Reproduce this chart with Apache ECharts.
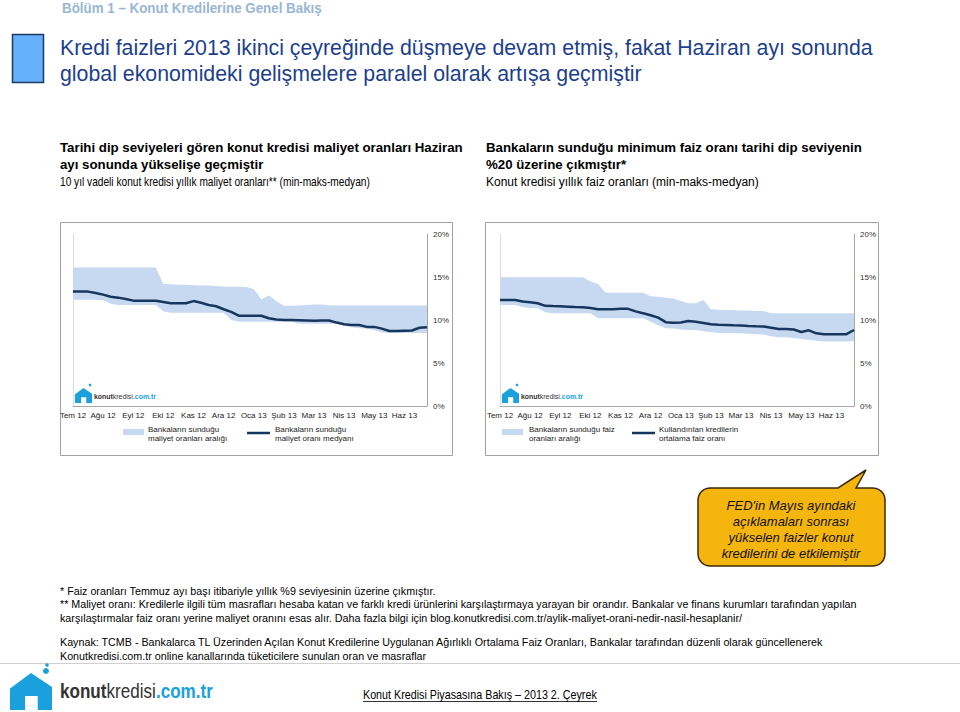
<!DOCTYPE html>
<html><head><meta charset="utf-8">
<script src="https://cdn.jsdelivr.net/npm/echarts@6/dist/echarts.min.js"></script>
<style>html,body{margin:0;padding:0;background:#fff}#c{width:960px;height:712px}</style>
</head><body><div id="c"></div>
<script>
// ---- data ----
const monthLabels = ['Tem 12','Ağu 12','Eyl 12','Eki 12','Kas 12','Ara 12','Oca 13','Şub 13','Mar 13','Nis 13','May 13','Haz 13'];
const yTicks = [0, 5, 10, 15, 20];
// Left: 10-year housing loan annual cost rates (weekly), %
const costMin = [12.35,12.35,12.35,12.35,12.3,11.9,11.75,11.75,11.75,11.75,11.75,11.75,
  11.0,10.85,10.85,10.85,10.85,10.85,10.85,10.85,10.85,10.0,9.8,9.8,
  9.8,9.8,9.8,9.8,9.8,9.8,9.55,9.55,9.55,9.55,9.55,9.55,
  9.3,9.15,9.05,9.0,8.8,8.55,8.5,8.5,8.5,8.5,8.5,8.5];
const costMax = [16.1,16.1,16.1,16.1,16.1,16.1,16.1,16.1,16.1,16.1,16.1,16.1,
  14.2,14.15,14.1,14.1,14.05,14.0,14.0,13.95,13.9,13.88,13.88,13.85,
  13.6,12.4,12.85,12.2,11.65,11.65,11.7,11.75,11.8,11.8,11.72,11.68,
  11.68,11.68,11.68,11.68,11.68,11.68,11.68,11.68,11.68,11.68,11.68,11.68];
const costMedian = [13.3,13.3,13.3,13.15,12.95,12.7,12.6,12.45,12.25,12.25,12.25,12.25,
  12.1,11.95,11.95,11.95,12.2,12.0,11.75,11.6,11.25,10.95,10.5,10.5,
  10.5,10.5,10.2,10.05,10.0,10.0,9.98,9.95,9.92,9.95,9.95,9.7,
  9.5,9.42,9.42,9.2,9.2,9.0,8.72,8.72,8.75,8.78,9.1,9.15];
// Right: housing loan annual interest rates (weekly), %
const rateMin = [11.74,11.74,11.74,11.5,11.36,11.36,10.9,10.78,10.78,10.78,10.78,10.78,
  10.78,10.2,10.2,10.2,10.2,10.2,10.2,10.2,9.8,9.4,9.03,9.0,
  8.9,8.84,8.84,8.7,8.6,8.5,8.5,8.5,8.45,8.4,8.35,8.3,
  8.1,8.0,8.0,7.9,7.8,7.7,7.6,7.5,7.5,7.5,7.5,7.6];
const rateMax = [14.97,14.97,14.97,14.97,14.97,14.97,14.97,14.97,14.97,14.97,14.97,14.97,
  14.5,14.2,13.2,13.18,13.18,13.18,13.18,13.18,12.75,12.7,12.6,12.5,
  12.2,11.94,11.94,12.33,11.24,11.2,11.15,11.15,11.1,11.1,11.05,11.05,
  10.78,10.78,10.78,10.78,10.78,10.78,10.78,10.78,10.78,10.78,10.78,10.78];
const rateAvg = [12.33,12.33,12.33,12.15,12.06,11.95,11.65,11.62,11.6,11.55,11.5,11.48,
  11.4,11.25,11.24,11.24,11.3,11.3,11.0,10.78,10.55,10.27,9.75,9.69,
  9.72,9.88,9.8,9.65,9.5,9.45,9.42,9.38,9.35,9.3,9.26,9.25,
  9.1,8.95,8.95,8.9,8.6,8.8,8.45,8.33,8.33,8.33,8.35,8.84];

// ---- styles ----
const BAND = '#c6d9f0', NAVY = '#17365d', AX = '#a6a6a6';
const SANS = "'Liberation Sans', Arial, sans-serif";
const weeks = costMedian.map((_, i) => 'w' + i);

const measureCtx = document.createElement('canvas').getContext('2d');
function measure(text, font) { measureCtx.font = font; return measureCtx.measureText(text).width; }
function fitScale(text, font, width) { return width / measure(text, font); }

const chart = echarts.init(document.getElementById('c'), null, {renderer: 'svg'});

function xAx(g) {
  return {type: 'category', gridIndex: g, data: weeks, boundaryGap: false,
    axisLine: {show: true, lineStyle: {color: AX, width: 1}}, axisTick: {show: false},
    axisLabel: {interval: 3, formatter: (v, i) => monthLabels[Math.round(i / 4)], fontSize: 8, color: '#222', margin: 5, fontFamily: SANS},
    splitLine: {show: false}};
}
function yAxRight(g) {
  return {type: 'value', gridIndex: g, position: 'right', min: yTicks[0], max: yTicks[yTicks.length - 1], interval: 5,
    axisLine: {show: true, lineStyle: {color: AX}}, axisTick: {show: false},
    axisLabel: {formatter: '{value}%', fontSize: 8, color: '#333', margin: 6, fontFamily: SANS},
    splitLine: {show: false}};
}
function yAxLeft(g) {
  return {type: 'value', gridIndex: g, position: 'left', min: 0, max: 20, interval: 5,
    axisLine: {show: true, lineStyle: {color: '#dcdcdc'}}, axisTick: {show: false},
    axisLabel: {show: false}, splitLine: {show: false}};
}
function bandPair(min, max, ax, stack) {
  return [
    {type: 'line', xAxisIndex: ax, yAxisIndex: ax * 2, data: min, stack: stack, symbol: 'none',
      lineStyle: {opacity: 0}, silent: true, z: 1},
    {type: 'line', xAxisIndex: ax, yAxisIndex: ax * 2, data: max.map((v, i) => +(v - min[i]).toFixed(2)), stack: stack, symbol: 'none',
      lineStyle: {opacity: 0}, areaStyle: {color: BAND, opacity: 1}, silent: true, z: 1}
  ];
}
function lineS(data, ax) {
  return {type: 'line', xAxisIndex: ax, yAxisIndex: ax * 2, data: data, symbol: 'none',
    lineStyle: {color: NAVY, width: 2.5}, z: 3, silent: true};
}

function txt(x, y, text, font, fill, align, scaleX) {
  const el = {type: 'text', x: x, y: y, silent: true,
    style: {text: text, font: font, fill: fill || '#000', textAlign: align || 'left', textVerticalAlign: 'middle'}};
  if (scaleX) { el.scaleX = scaleX; }
  return el;
}
function fitTxt(x, y, text, font, fill, width) {
  return txt(x, y, text, font, fill, 'left', fitScale(text, font, width));
}
function house(x, y, w, h) {
  return {type: 'polygon', silent: true, shape: {points: [
    [x, y + h * 0.42], [x + w * 0.5, y], [x + w, y + h * 0.38], [x + w, y + h], [x + w * 0.66, y + h],
    [x + w * 0.66, y + h * 0.62], [x + w * 0.36, y + h * 0.62], [x + w * 0.36, y + h], [x, y + h]]},
    style: {fill: '#1aa0dc'}};
}
function logoText(x, y, size, width) {
  const fa = 'bold ' + size + 'px ' + SANS, fb = size + 'px ' + SANS;
  const w = measure('konut', fa) + measure('kredisi', fb) + measure('.com.tr', fa);
  return {type: 'text', silent: true, x: x, y: y, scaleX: width / w,
    style: {text: '{a|konut}{b|kredisi}{c|.com.tr}', textVerticalAlign: 'middle',
      rich: {a: {font: fa, fill: '#333'}, b: {font: fb, fill: '#333'}, c: {font: fa, fill: '#1aa0dc'}}}};
}
function smallLogo(x, y) {
  return [
    house(x, y + 1, 17, 15),
    {type: 'circle', silent: true, shape: {cx: x + 15, cy: y - 2, r: 1.3}, style: {fill: '#1aa0dc'}},
    logoText(x + 19, y + 9, 7, 62)
  ];
}
function calloutPoints(x0, y0, x1, y1, r, p1, tip, p2) {
  const pts = [];
  const arc = (cx, cy, a0, a1) => { for (let k = 0; k <= 6; k++) { const a = a0 + (a1 - a0) * k / 6; pts.push([cx + r * Math.cos(a), cy + r * Math.sin(a)]); } };
  arc(x0 + r, y0 + r, Math.PI, Math.PI * 1.5);
  pts.push([p1, y0], tip, [p2, y0]);
  arc(x1 - r, y0 + r, Math.PI * 1.5, Math.PI * 2);
  arc(x1 - r, y1 - r, 0, Math.PI * 0.5);
  arc(x0 + r, y1 - r, Math.PI * 0.5, Math.PI);
  return pts;
}

const FOOT = '11px ' + SANS;
const footLine2 = '** Maliyet oranı: Kredilerle ilgili tüm masrafları hesaba katan ve farklı kredi ürünlerini karşılaştırmaya yarayan bir orandır. Bankalar ve finans kurumları tarafından yapılan';
const footScale = fitScale(footLine2, FOOT, 797);
const TITLE1 = 'Kredi faizleri 2013 ikinci çeyreğinde düşmeye devam etmiş, fakat Haziran ayı sonunda';
const SUB_L1 = 'Tarihi dip seviyeleri gören konut kredisi maliyet oranları Haziran';
const SUB_R1 = 'Bankaların sunduğu minimum faiz oranı tarihi dip seviyenin';

const elements = [
  // header
  fitTxt(62, 8, 'Bölüm 1 – Konut Kredilerine Genel Bakış', 'bold 14px ' + SANS, '#98b6d6', 260),
  {type: 'rect', silent: true, shape: {x: 12.5, y: 34.5, width: 31, height: 48}, style: {fill: '#66b1fb', stroke: '#1f3a60', lineWidth: 1.5}},
  fitTxt(60, 47, TITLE1, '22px ' + SANS, '#1c3f8c', 813),
  txt(60, 73, 'global ekonomideki gelişmelere paralel olarak artışa geçmiştir', '22px ' + SANS, '#1c3f8c', 'left', fitScale(TITLE1, '22px ' + SANS, 813)),
  // subtitles
  fitTxt(60, 148, SUB_L1, 'bold 13px ' + SANS, '#000', 403),
  txt(60, 165, 'ayı sonunda yükselişe geçmiştir', 'bold 13px ' + SANS, '#000', 'left', fitScale(SUB_L1, 'bold 13px ' + SANS, 403)),
  fitTxt(60, 182, '10 yıl vadeli konut kredisi yıllık maliyet oranları** (min-maks-medyan)', '12px ' + SANS, '#000', 310),
  fitTxt(486, 148, SUB_R1, 'bold 13px ' + SANS, '#000', 376),
  txt(486, 165, '%20 üzerine çıkmıştır*', 'bold 13px ' + SANS, '#000', 'left', fitScale(SUB_R1, 'bold 13px ' + SANS, 376)),
  txt(486, 182, 'Konut kredisi yıllık faiz oranları (min-maks-medyan)', '12px ' + SANS, '#000'),
  // chart frames
  {type: 'rect', silent: true, z: -1, shape: {x: 60.5, y: 222.5, width: 392, height: 233}, style: {fill: 'none', stroke: '#a0a0a0', lineWidth: 1}},
  {type: 'rect', silent: true, z: -1, shape: {x: 485.5, y: 222.5, width: 393, height: 233}, style: {fill: 'none', stroke: '#a0a0a0', lineWidth: 1}},
  // left legend
  {type: 'rect', silent: true, shape: {x: 123, y: 429, width: 21, height: 6}, style: {fill: BAND}},
  txt(148, 429, 'Bankaların sunduğu', '8px ' + SANS, '#222'),
  txt(148, 438, 'maliyet oranları aralığı', '8px ' + SANS, '#222'),
  {type: 'line', silent: true, shape: {x1: 247, y1: 433, x2: 270, y2: 433}, style: {stroke: NAVY, lineWidth: 2.5}},
  txt(275, 429, 'Bankaların sunduğu', '8px ' + SANS, '#222'),
  txt(275, 438, 'maliyet oranı medyanı', '8px ' + SANS, '#222'),
  // right legend
  {type: 'rect', silent: true, shape: {x: 502, y: 429, width: 21, height: 6}, style: {fill: BAND}},
  txt(529, 429, 'Bankaların sunduğu faiz', '8px ' + SANS, '#222'),
  txt(529, 438, 'oranları aralığı', '8px ' + SANS, '#222'),
  {type: 'line', silent: true, shape: {x1: 632, y1: 433, x2: 655, y2: 433}, style: {stroke: NAVY, lineWidth: 2.5}},
  txt(659, 429, 'Kullandırılan kredilerin', '8px ' + SANS, '#222'),
  txt(659, 438, 'ortalama faiz oranı', '8px ' + SANS, '#222'),
  ...smallLogo(75, 387),
  ...smallLogo(502, 387),
  // callout
  {type: 'polygon', silent: true, shape: {points: calloutPoints(698, 488, 885, 566, 12, 838, [866, 470], 856)},
    style: {fill: '#f4b50d', stroke: '#3d2a05', lineWidth: 1.5}},
  txt(791, 505, "FED'in Mayıs ayındaki", 'italic 13px ' + SANS, '#111', 'center'),
  txt(791, 521, 'açıklamaları sonrası', 'italic 13px ' + SANS, '#111', 'center'),
  txt(791, 537, 'yükselen faizler konut', 'italic 13px ' + SANS, '#111', 'center'),
  txt(791, 553, 'kredilerini de etkilemiştir', 'italic 13px ' + SANS, '#111', 'center'),
  // footnotes
  txt(60, 591, '* Faiz oranları Temmuz ayı başı itibariyle yıllık %9 seviyesinin üzerine çıkmıştır.', FOOT, '#000', 'left', footScale),
  txt(60, 604, footLine2, FOOT, '#000', 'left', footScale),
  txt(60, 618, 'karşılaştırmalar faiz oranı yerine maliyet oranını esas alır. Daha fazla bilgi için blog.konutkredisi.com.tr/aylik-maliyet-orani-nedir-nasil-hesaplanir/', FOOT, '#000', 'left', footScale),
  txt(60, 642, 'Kaynak: TCMB - Bankalarca TL Üzerinden Açılan Konut Kredilerine Uygulanan Ağırlıklı Ortalama Faiz Oranları, Bankalar tarafından düzenli olarak güncellenerek', FOOT, '#000', 'left', footScale),
  txt(60, 656, 'Konutkredisi.com.tr online kanallarında tüketicilere sunulan oran ve masraflar', FOOT, '#000', 'left', footScale),
  // footer
  {type: 'line', silent: true, shape: {x1: 0, y1: 663.5, x2: 960, y2: 663.5}, style: {stroke: '#d0d0d0', lineWidth: 1}},
  house(10, 673, 42, 37),
  {type: 'circle', silent: true, shape: {cx: 46, cy: 671, r: 3}, style: {fill: '#1aa0dc'}},
  {type: 'circle', silent: true, shape: {cx: 47, cy: 665, r: 1.8}, style: {fill: '#1aa0dc'}},
  logoText(60, 691, 21, 153),
  fitTxt(363, 695, 'Konut Kredisi Piyasasına Bakış – 2013 2. Çeyrek', '12px ' + SANS, '#000', 234),
  {type: 'line', silent: true, shape: {x1: 363, y1: 701.5, x2: 597, y2: 701.5}, style: {stroke: '#000', lineWidth: 0.8}}
];

chart.setOption({
  animation: false,
  backgroundColor: '#fff',
  grid: [
    {left: 73, top: 234, width: 354, height: 172},
    {left: 500, top: 234, width: 354, height: 172}
  ],
  xAxis: [xAx(0), xAx(1)],
  yAxis: [yAxRight(0), yAxLeft(0), yAxRight(1), yAxLeft(1)],
  series: [
    ...bandPair(costMin, costMax, 0, 'costBand'),
    lineS(costMedian, 0),
    ...bandPair(rateMin, rateMax, 1, 'rateBand'),
    lineS(rateAvg, 1)
  ],
  graphic: {elements: elements}
});
</script>
</body></html>
